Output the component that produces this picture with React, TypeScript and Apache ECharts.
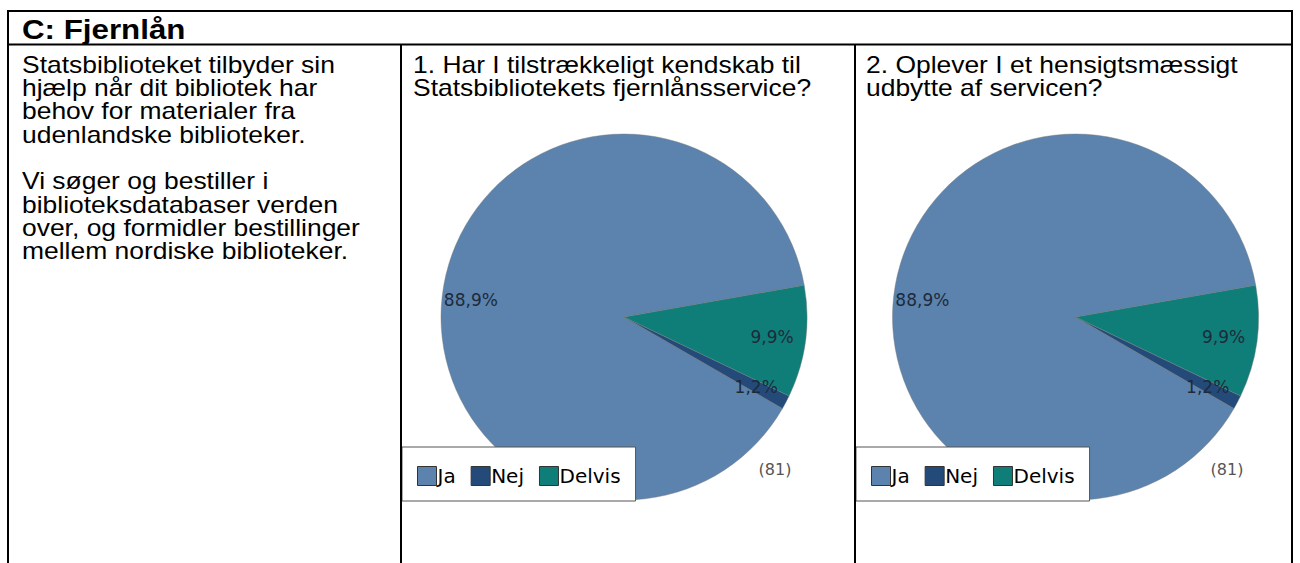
import React, { useEffect, useRef } from "react";
import * as echarts from "echarts";

const categories = ["Ja", "Nej", "Delvis"];
const q1Counts = [72, 1, 8];
const q2Counts = [72, 1, 8];
const sliceColors = ["#5b83ad", "#234a78", "#107e78"];
const sectionTitle = "C: Fjernlån";
const introLines = [
  "Statsbiblioteket tilbyder sin",
  "hjælp når dit bibliotek har",
  "behov for materialer fra",
  "udenlandske biblioteker.",
  "",
  "Vi søger og bestiller i",
  "biblioteksdatabaser verden",
  "over, og formidler bestillinger",
  "mellem nordiske biblioteker.",
];
const q1Lines = ["1. Har I tilstrækkeligt kendskab til", "Statsbibliotekets fjernlånsservice?"];
const q2Lines = ["2. Oplever I et hensigtsmæssigt", "udbytte af servicen?"];
const respondents = ["(81)", "(81)"];

const W = 1300;
const H = 563;
const TEXT_FONT = "Liberation Sans, Arial, sans-serif";
const CHART_FONT = "DejaVu Sans, sans-serif";
const STRETCH = 1.15;

function pieSeries(counts: number[], cx: number, cy: number, r: number) {
  const data = categories.map((name, i) => ({
    name,
    value: counts[i],
    itemStyle: { color: sliceColors[i] },
  }));
  return [
    {
      type: "pie",
      center: [cx, cy],
      radius: [0, r],
      startAngle: 10,
      clockwise: false,
      data,
      label: { show: false },
      labelLine: { show: false },
      itemStyle: { borderColor: "rgba(120,120,120,0.6)", borderWidth: 0.7 },
      emphasis: { disabled: true },
      silent: true,
    },
    {
      type: "pie",
      center: [cx, cy],
      radius: [r * 0.6, r],
      startAngle: 10,
      clockwise: false,
      data: categories.map((name, i) => ({ name, value: counts[i] })),
      itemStyle: { color: "rgba(0,0,0,0)", borderWidth: 0 },
      label: {
        show: true,
        position: "inside",
        fontFamily: CHART_FONT,
        fontSize: 17,
        color: "#1e2a3c",
        formatter: (p: any) => p.percent.toFixed(1).replace(".", ",") + "%",
      },
      labelLayout: (p: any) => (p.dataIndex === 0 ? { dx: -6, dy: 9 } : {}),
      labelLine: { show: false },
      emphasis: { disabled: true },
      silent: true,
      z: 3,
    },
  ];
}

function legendCfg(left: number) {
  return {
    left,
    top: 447,
    orient: "horizontal",
    icon: "rect",
    itemWidth: 19,
    itemHeight: 19,
    itemGap: 15,
    padding: [19, 15, 15, 15],
    backgroundColor: "#ffffff",
    borderColor: "#555555",
    borderWidth: 1,
    selectedMode: false,
    data: categories.map((name, i) => ({
      name,
      itemStyle: { color: sliceColors[i], borderColor: "#333", borderWidth: 1 },
    })),
    textStyle: {
      fontFamily: CHART_FONT,
      fontSize: 20,
      color: "#000",
      padding: [0, 0, 0, -4],
    },
    z: 10,
  };
}

function textEl(text: string, x: number, y: number, size: number, weight = "normal", color = "#000", font = TEXT_FONT, align = "left", sx = 1) {
  return {
    type: "text",
    x,
    y,
    scaleX: sx,
    z: 20,
    silent: true,
    style: {
      text,
      fill: color,
      fontSize: size,
      fontFamily: font,
      fontWeight: weight,
      textAlign: align,
      textVerticalAlign: "middle",
    },
  };
}

function lineEl(x1: number, y1: number, x2: number, y2: number) {
  return {
    type: "line",
    z: 20,
    silent: true,
    shape: { x1, y1, x2, y2 },
    style: { stroke: "#000", lineWidth: 2 },
  };
}

export default function App() {
  const ref = useRef<HTMLDivElement>(null);
  useEffect(() => {
    document.body.style.margin = "0";
    if (!ref.current) return;
    const chart = echarts.init(ref.current, null, { renderer: "svg", width: W, height: H });
    const LH = 23.3;
    const bodyY = 65;
    const graphics: any[] = [
      lineEl(7, 11, 1293, 11),
      lineEl(7, 44.5, 1293, 44.5),
      lineEl(8, 10, 8, H),
      lineEl(401, 44, 401, H),
      lineEl(855, 44, 855, H),
      lineEl(1292, 10, 1292, H),
      textEl(sectionTitle, 22, 29.5, 27, "bold", "#000", TEXT_FONT, "left", 1.16),
    ];
    introLines.forEach((t, i) => {
      if (t) graphics.push(textEl(t, 22, bodyY + i * LH, 23, "normal", "#000", TEXT_FONT, "left", STRETCH));
    });
    q1Lines.forEach((t, i) => graphics.push(textEl(t, 413, bodyY + i * LH, 23, "normal", "#000", TEXT_FONT, "left", STRETCH)));
    q2Lines.forEach((t, i) => graphics.push(textEl(t, 866, bodyY + i * LH, 23, "normal", "#000", TEXT_FONT, "left", STRETCH)));
    graphics.push(textEl(respondents[0], 775, 469, 16, "normal", "#555", CHART_FONT, "center"));
    graphics.push(textEl(respondents[1], 1227, 469, 16, "normal", "#555", CHART_FONT, "center"));

    chart.setOption({
      animation: false,
      backgroundColor: "#ffffff",
      legend: [legendCfg(402), legendCfg(856)],
      series: [...pieSeries(q1Counts, 624, 317, 183), ...pieSeries(q2Counts, 1075.5, 317, 183)],
      graphic: { elements: graphics },
    });
    return () => chart.dispose();
  }, []);
  return <div ref={ref} style={{ width: W, height: H }} />;
}
